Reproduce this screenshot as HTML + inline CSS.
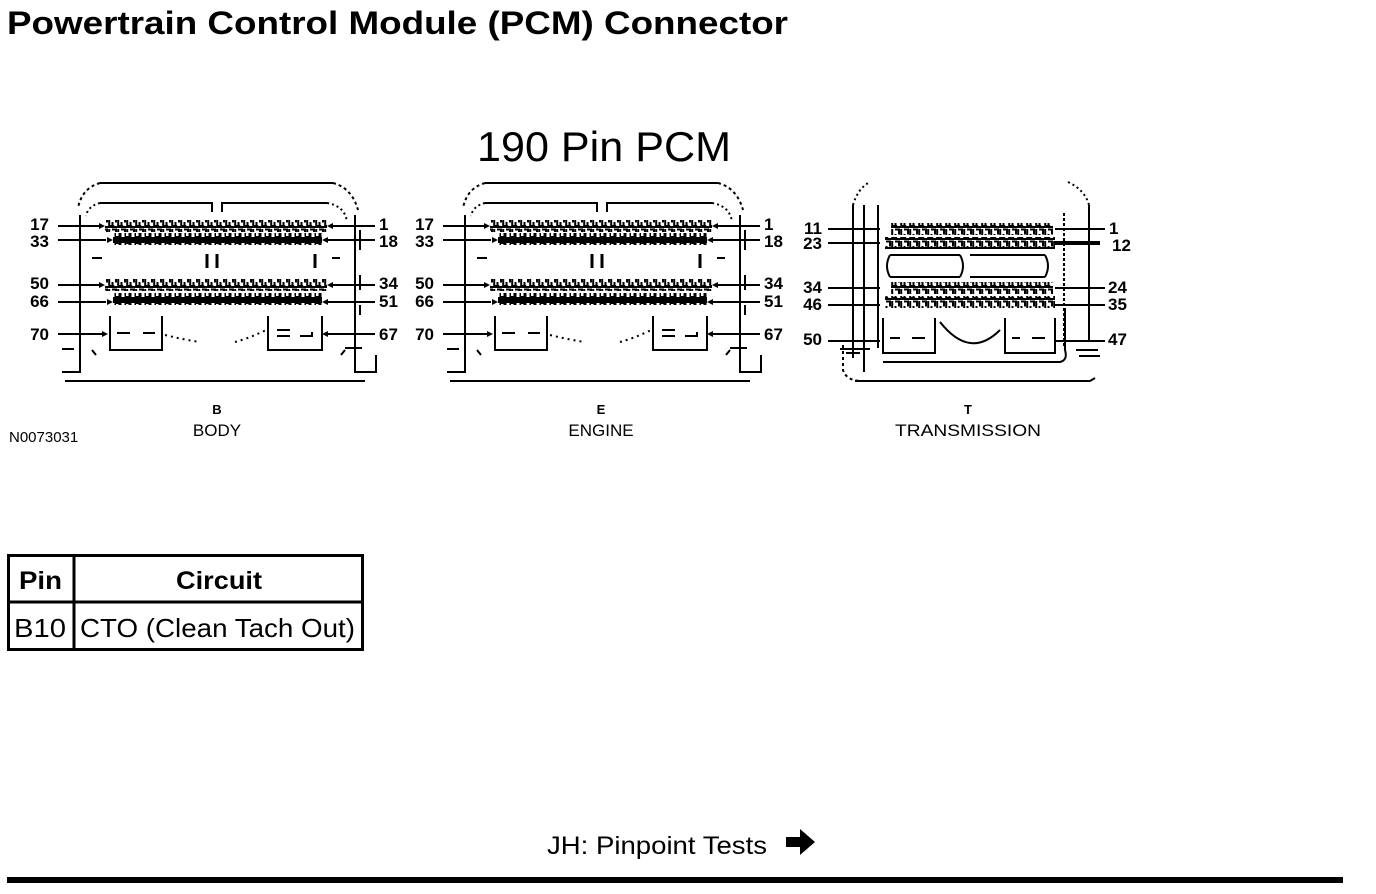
<!DOCTYPE html>
<html><head><meta charset="utf-8"><style>
html,body{margin:0;padding:0;background:#fff;}
svg{display:block;}
text{font-family:"Liberation Sans",Arial,sans-serif;fill:#000;}
</style></head><body>
<svg width="1376" height="894" viewBox="0 0 1376 894" xmlns="http://www.w3.org/2000/svg">
<defs>
<pattern id="pa" x="0" y="0" width="9" height="12" patternUnits="userSpaceOnUse">
<rect width="9" height="12" fill="#fff"/>
<path d="M1.2 1v9h5M4 1.5h4v5M4.5 6v3" stroke="#000" stroke-width="2" fill="none"/>
<rect x="0" y="10" width="9" height="2" fill="#000"/>
</pattern>
<pattern id="pb" x="0" y="0" width="10" height="12" patternUnits="userSpaceOnUse">
<rect width="10" height="12" fill="#000"/>
<rect x="1.5" y="3" width="3" height="6" fill="#fff"/>
<rect x="6" y="4" width="2.5" height="4" fill="#fff"/>
</pattern>
<g id="conn" fill="none" stroke="#000">
<path d="M100 183H333" stroke-width="2"/>
<path d="M100 183 Q82 188 78 208" stroke-width="2" stroke-dasharray="3 3"/>
<path d="M333 183 Q352 188 358 210" stroke-width="2" stroke-dasharray="3 3"/>
<path d="M100 203H212V212M222 212V203H327" stroke-width="2"/>
<path d="M100 203 Q88 206 86 216" stroke-width="2" stroke-dasharray="2 3"/>
<path d="M327 203 Q345 206 347 222" stroke-width="2" stroke-dasharray="2 3"/>
<path d="M80 215V372H62" stroke-width="2"/>
<path d="M355 215V372H376V355" stroke-width="2"/>
<path d="M65 381H365" stroke-width="2"/>
<path d="M360 230V250M360 275V290M360 305V315" stroke-width="2"/>
<path d="M62 349H74M345 348H362" stroke-width="2"/>
<rect x="105" y="220" width="222" height="12" fill="url(#pa)" stroke="none"/>
<rect x="113" y="233" width="209" height="12" fill="url(#pb)" stroke="none"/>
<rect x="105" y="279" width="222" height="12" fill="url(#pa)" stroke="none"/>
<rect x="113" y="293" width="209" height="12" fill="url(#pb)" stroke="none"/>
<path d="M207 254V268M217 254V268M315 254V268" stroke-width="3"/>
<path d="M92 258H102M332 258H340" stroke-width="2"/>
<path d="M110 316V350H162V316" stroke-width="2"/>
<path d="M268 316V350H322V316" stroke-width="2"/>
<path d="M117 333H130M143 333H155M277 330H290M277 336H290M300 336H312V332" stroke-width="2"/>
<path d="M165 335 Q185 340 200 342M235 342 Q250 338 266 330" stroke-width="2" stroke-dasharray="2 4"/>
<path d="M92 350L96 355M341 355L345 350" stroke-width="2"/>
<path d="M58 226H100M58 240H106M58 285H100M58 302H106M58 334H102" stroke-width="2"/>
<path d="M333 226H375M328 240H375M333 285H375M328 302H375M328 334H375" stroke-width="2"/>
</g>
<g id="arrh" fill="#000">
<path d="M105 226l-6-3v6zM113 240l-6-3v6zM105 285l-6-3v6zM113 302l-6-3v6zM108 334l-6-3v6z"/>
<path d="M327 226l6-3v6zM322 240l6-3v6zM327 285l6-3v6zM322 302l6-3v6zM322 334l6-3v6z"/>
</g>
</defs>

<text x="7" y="34" font-size="32" font-weight="bold" textLength="781" lengthAdjust="spacingAndGlyphs">Powertrain Control Module (PCM) Connector</text>
<text x="477" y="161" font-size="42" textLength="254" lengthAdjust="spacingAndGlyphs">190 Pin PCM</text>

<g>
<use href="#conn"/><use href="#arrh"/>
</g>
<g font-size="17" font-weight="bold">
<text x="49" y="230" text-anchor="end">17</text><text x="49" y="247" text-anchor="end">33</text>
<text x="49" y="289" text-anchor="end">50</text><text x="49" y="307" text-anchor="end">66</text>
<text x="49" y="340" text-anchor="end">70</text>
<text x="379" y="230">1</text><text x="379" y="247">18</text><text x="379" y="289">34</text>
<text x="379" y="307">51</text><text x="379" y="340">67</text>
</g>
<text x="217" y="414" font-size="13" font-weight="bold" text-anchor="middle">B</text>
<text x="217" y="436" font-size="17" text-anchor="middle">BODY</text>
<text x="9" y="442" font-size="15">N0073031</text>

<g transform="translate(385 0)"><use href="#conn"/><use href="#arrh"/></g>
<g font-size="17" font-weight="bold">
<text x="434" y="230" text-anchor="end">17</text><text x="434" y="247" text-anchor="end">33</text>
<text x="434" y="289" text-anchor="end">50</text><text x="434" y="307" text-anchor="end">66</text>
<text x="434" y="340" text-anchor="end">70</text>
<text x="764" y="230">1</text><text x="764" y="247">18</text><text x="764" y="289">34</text>
<text x="764" y="307">51</text><text x="764" y="340">67</text>
</g>
<text x="601" y="414" font-size="13" font-weight="bold" text-anchor="middle">E</text>
<text x="601" y="436" font-size="17" text-anchor="middle">ENGINE</text>

<g fill="none" stroke="#000" stroke-width="2">
<path d="M853 205V358M864 205V372M878 205V348M1089 205V340"/>
<path d="M853 205 Q858 188 870 182M1068 182 Q1085 190 1089 205" stroke-dasharray="2 3"/>
<path d="M843 345V370Q846 380 860 381H1090" stroke-dasharray="3 3"/>
<path d="M855 381H1090L1095 378"/>
<path d="M890 255H960M970 255H1045M890 277H960M970 277H1045"/>
<path d="M890 255Q884 266 890 277M1045 255Q1051 266 1045 277M960 255Q966 266 960 277"/>
<path d="M883 318V353H935V318M1005 318V353H1055V318"/>
<path d="M883 362H1060Q1068 360 1065 350V308"/>
<path d="M890 338H900M912 338H925M1012 338H1020M1032 338H1045M940 322 Q970 360 1000 330"/>
<path d="M1064 213V348" stroke-dasharray="3 2"/>
<path d="M1076 350H1098M1079 356H1100"/>
<path d="M846 353H860M840 349H870"/>
<path d="M828 229H880M828 243H880M828 288H880M828 305H880M828 341H880"/>
<path d="M1055 229H1105M1055 305H1105M1055 288H1105M1055 341H1105"/>
<path d="M1055 243H1100" stroke-width="4"/>
</g>
<rect x="891" y="223" width="162" height="12" fill="url(#pa)"/>
<rect x="885" y="237" width="170" height="12" fill="url(#pa)"/>
<rect x="885" y="247" width="170" height="2" fill="#000"/>
<rect x="891" y="282" width="162" height="12" fill="url(#pa)"/>
<rect x="885" y="296" width="170" height="12" fill="url(#pa)"/>
<g font-size="17" font-weight="bold">
<text x="822" y="234" text-anchor="end">11</text><text x="822" y="249" text-anchor="end">23</text>
<text x="822" y="293" text-anchor="end">34</text><text x="822" y="310" text-anchor="end">46</text>
<text x="822" y="345" text-anchor="end">50</text>
<text x="1109" y="234">1</text><text x="1112" y="251">12</text><text x="1108" y="293">24</text>
<text x="1108" y="310">35</text><text x="1108" y="345">47</text>
</g>
<text x="968" y="414" font-size="13" font-weight="bold" text-anchor="middle">T</text>
<text x="968" y="436" font-size="17" text-anchor="middle" textLength="146" lengthAdjust="spacingAndGlyphs">TRANSMISSION</text>

<g fill="none" stroke="#000" stroke-width="3">
<rect x="8.5" y="555.5" width="354" height="94"/>
<path d="M74 555V650M8 602H363"/>
</g>
<text x="19" y="589" font-size="25" font-weight="bold" textLength="43" lengthAdjust="spacingAndGlyphs">Pin</text>
<text x="176" y="589" font-size="25" font-weight="bold" textLength="86" lengthAdjust="spacingAndGlyphs">Circuit</text>
<text x="14" y="637" font-size="26" textLength="52" lengthAdjust="spacingAndGlyphs">B10</text>
<text x="80" y="637" font-size="26" textLength="275" lengthAdjust="spacingAndGlyphs">CTO (Clean Tach Out)</text>

<text x="547" y="854" font-size="25" textLength="220" lengthAdjust="spacingAndGlyphs">JH: Pinpoint Tests</text>
<path d="M786 837H800V829L815 842L800 855V847H786Z" fill="#000"/>
<rect x="7" y="877" width="1336" height="6" fill="#000"/>
</svg>
</body></html>
